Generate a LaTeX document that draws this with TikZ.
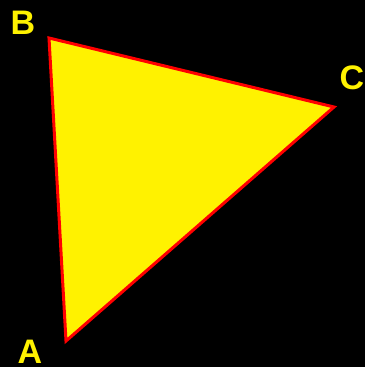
\documentclass[tikz,border=0pt]{standalone}
\usepackage{fontspec}
\setsansfont{Liberation Sans}
\begin{document}
\begin{tikzpicture}[x=1pt,y=-1pt,
  lbl/.style={text=yellow,font=\sffamily\bfseries\fontsize{34}{34}\selectfont,inner sep=0pt,anchor=center}]
\fill[black] (0,0) rectangle (365,367);
\useasboundingbox (0,0) rectangle (365,367);
\coordinate (A) at (66,341);
\coordinate (B) at (49,38);
\coordinate (C) at (334,107);
\filldraw[fill=yellow,draw=red,line width=3pt,line join=miter] (A) -- (B) -- (C) -- cycle;
\node[lbl] (la) at (30,352) {A};
\node[lbl] (lb) at (23,23) {B};
\node[lbl] (lc) at (352,78) {C};
\end{tikzpicture}
\end{document}
